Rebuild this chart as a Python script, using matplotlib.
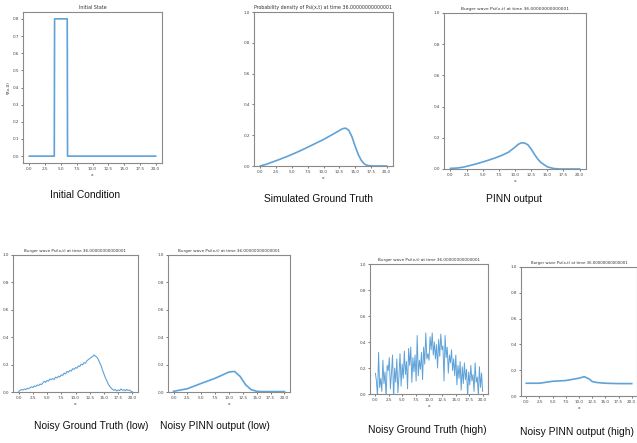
import matplotlib
matplotlib.use('Agg')
import matplotlib.pyplot as plt
import numpy as np

W, H = 637, 443

# Initial condition (step)
init_x = [0.0, 3.95, 4.0, 6.0, 6.05, 20.0]
init_y = [0.0, 0.0, 0.8, 0.8, 0.0, 0.0]

# Simulated ground truth at t = 36
gt_x = [0, 1, 2, 3, 4, 5, 6, 7, 8, 9, 10, 11, 12, 12.5, 13, 13.5, 14, 14.5, 15,
        15.5, 16, 16.5, 17, 18, 20]
gt_y = [0.0, 0.012, 0.027, 0.042, 0.058, 0.075, 0.093, 0.112, 0.132, 0.152, 0.172,
        0.195, 0.218, 0.23, 0.242, 0.246, 0.232, 0.19, 0.13, 0.075, 0.035, 0.012,
        0.003, 0.0, 0.0]

# PINN output
pinn_x = [0, 1, 2, 3, 4, 5, 6, 7, 8, 9, 10, 10.5, 11, 11.5, 12, 12.5, 13, 13.5,
          14, 15, 16, 17, 20]
pinn_y = [0.004, 0.006, 0.012, 0.022, 0.033, 0.045, 0.058, 0.072, 0.088, 0.108,
          0.14, 0.158, 0.168, 0.166, 0.155, 0.128, 0.095, 0.065, 0.042, 0.014,
          0.003, 0.0, 0.0]

# Noisy ground truth (low noise), sampled every 0.25
noisy_low_y = [0.005, 0.012, 0.018, 0.014, 0.022, 0.017, 0.028, 0.024, 0.031, 0.038,
               0.033, 0.044, 0.040, 0.051, 0.047, 0.058, 0.054, 0.066, 0.078, 0.070,
               0.085, 0.079, 0.095, 0.090, 0.098, 0.092, 0.108, 0.103, 0.115, 0.110,
               0.125, 0.121, 0.138, 0.132, 0.150, 0.144, 0.158, 0.152, 0.170, 0.165,
               0.178, 0.174, 0.190, 0.186, 0.203, 0.198, 0.214, 0.210, 0.228, 0.236,
               0.244, 0.252, 0.258, 0.270, 0.262, 0.255, 0.238, 0.215, 0.192, 0.160,
               0.132, 0.105, 0.082, 0.060, 0.042, 0.030, 0.020, 0.012, 0.018, 0.008,
               0.015, 0.010, 0.022, 0.012, 0.017, 0.009, 0.019, 0.011, 0.014, 0.006,
               0.002]

# Noisy PINN output (low)
npl_x = [0, 2.5, 5, 7.5, 10, 11, 12, 12.5, 13, 14, 15, 16, 20]
npl_y = [0.005, 0.024, 0.063, 0.10, 0.146, 0.15, 0.114, 0.083, 0.053, 0.017, 0.005,
         0.003, 0.003]

# Noisy ground truth (high noise), sampled every 0.2
noisy_high_y = [0.16, 0.10, -0.02, 0.32, 0.05, 0.12, 0.02, 0.26, 0.08, 0.17,
                -0.03, 0.22, 0.18, 0.28, 0.04, 0.16, 0.30, -0.04, 0.20, 0.09,
                0.27, 0.01, 0.14, 0.31, 0.06, 0.23, 0.12, 0.33, 0.15, 0.25,
                0.04, 0.35, 0.22, 0.36, 0.09, 0.28, 0.17, 0.30, 0.10, 0.45,
                0.14, 0.26, 0.19, 0.32, 0.11, 0.36, 0.23, 0.47, 0.27, 0.31,
                0.26, 0.44, 0.34, 0.47, 0.30, 0.40, 0.27, 0.38, 0.20, 0.42,
                0.29, 0.46, 0.34, 0.37, 0.10, 0.45, 0.28, 0.36, 0.16, 0.30,
                0.24, 0.34, 0.18, 0.27, 0.14, 0.30, 0.07, 0.22, 0.12, 0.25,
                0.03, 0.21, 0.08, 0.24, 0.11, 0.19, -0.02, 0.17, 0.07, 0.22,
                0.10, 0.15, 0.02, 0.24, 0.09, 0.13, -0.01, 0.21, 0.05, 0.16,
                0.02]

# Noisy PINN output (high)
nph_x = [0, 2.5, 5, 7.5, 10, 11, 12, 12.5, 13.5, 15, 17.5, 20]
nph_y = [0.099, 0.099, 0.114, 0.12, 0.138, 0.15, 0.13, 0.112, 0.104, 0.099, 0.096,
         0.096]

title_t = 'Burger wave Psi(x,t) at time 36.00000000000001'
line_c = '#5fa2d8'
cap_font = ['Liberation Sans', 'DejaVu Sans']

fig = plt.figure(figsize=(W / 100, H / 100), dpi=100)


def panel(box, x, y, title, caption, cap_pos, ylim=(0, 1), lw=1.2, tsize=3.0):
    l, t, r, b = box
    ax = fig.add_axes([l / W, 1 - b / H, (r - l) / W, (b - t) / H])
    ax.plot(x, y, color=line_c, lw=lw)
    if ylim is not None:
        ax.set_ylim(*ylim)
    ax.set_xticks([0, 2.5, 5, 7.5, 10, 12.5, 15, 17.5, 20])
    ax.set_title(title, fontsize=tsize, pad=2, color='#333333')
    ax.set_xlabel('x', fontsize=3.2, labelpad=1, color='#333333')
    ax.tick_params(labelsize=3.0, length=1.5, width=0.5, pad=1.5, colors='#444444')
    for s in ax.spines.values():
        s.set_color('#8a8a8a')
        s.set_linewidth(0.8)
    fig.text(cap_pos[0] / W, 1 - cap_pos[1] / H, caption, ha='center', va='center',
             fontsize=7.4, family=cap_font, color='#111111')
    return ax


ax1 = panel((23, 12, 162, 163), init_x, init_y, 'Initial State', 'Initial Condition',
            (85, 195), ylim=None, tsize=3.4)
ax1.set_ylabel('Ψ(x,0)', fontsize=3.0, labelpad=1, color='#333333')
ax1.set_yticks(np.arange(0, 0.81, 0.1))

panel((254, 12, 393, 166), gt_x, gt_y,
      'Probability density of Psi(x,t) at time 36.00000000000001',
      'Simulated Ground Truth', (318, 199), tsize=3.4)
panel((444, 13, 586, 169), pinn_x, pinn_y, title_t, 'PINN output', (514, 199), tsize=3.2)
panel((13, 255, 138, 392), np.linspace(0, 20, len(noisy_low_y)), noisy_low_y, title_t,
      'Noisy Ground Truth (low)', (91, 426), lw=0.8)
panel((168, 255, 290, 392), npl_x, npl_y, title_t, 'Noisy PINN output (low)', (215, 426))
panel((370, 264, 488, 394), np.linspace(0, 20, len(noisy_high_y)), noisy_high_y, title_t,
      'Noisy Ground Truth (high)', (427, 430), lw=0.7)
panel((521, 267, 637, 396), nph_x, nph_y, title_t, 'Noisy PINN output (high)', (577, 432),
      tsize=2.8)

fig.savefig('out.png', dpi=100, facecolor='white')
